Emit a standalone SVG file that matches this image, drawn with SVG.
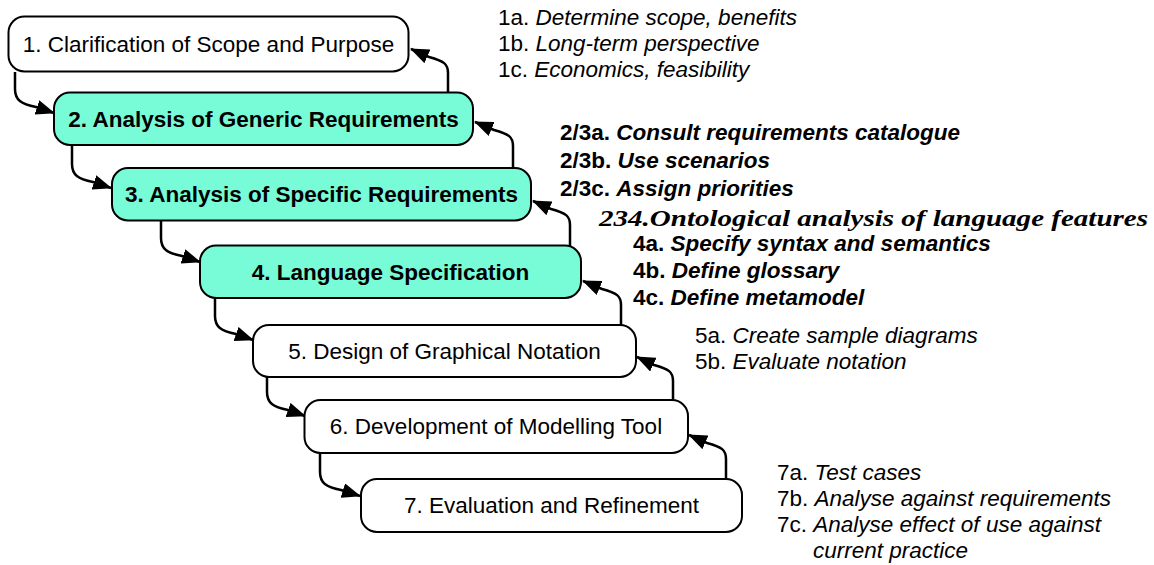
<svg xmlns="http://www.w3.org/2000/svg" width="1154" height="565" viewBox="0 0 1154 565">
<style>
.box{stroke:#000;stroke-width:2}
.w{fill:#fff}
.g{fill:#78fbd7}
.bt{font-family:"Liberation Sans",Arial,sans-serif;font-size:22.5px;fill:#000;text-anchor:middle}
.b{font-weight:bold}
.an{font-family:"Liberation Sans",Arial,sans-serif;font-size:22.5px;fill:#000}
.i{font-style:italic}
.ont{font-family:"Liberation Serif","DejaVu Serif",serif;font-size:24px;font-weight:bold;font-style:italic;fill:#000}
.c{fill:none;stroke:#000;stroke-width:2.5}
</style>
<defs>
<marker id="ah" markerUnits="userSpaceOnUse" markerWidth="19" markerHeight="15" viewBox="0 0 19 15" refX="18" refY="7.5" orient="auto">
<path d="M0,0 L19,7.5 L0,15 z" fill="#000"/>
</marker>
</defs>
<rect width="1154" height="565" fill="#fff"/>
<g id="connectors">
<path class="c" marker-end="url(#ah)" d="M15,72 L15,89 C15,100 21,104 36,107 L54,113"/>
<path class="c" marker-end="url(#ah)" d="M72,145 L72,164 C72,175 78,179 93,182 L111,188"/>
<path class="c" marker-end="url(#ah)" d="M161,221 L161,238 C161,249 167,253 182,256 L200,262"/>
<path class="c" marker-end="url(#ah)" d="M215,298 L215,316 C215,327 221,331 236,334 L253,340"/>
<path class="c" marker-end="url(#ah)" d="M267,377 L267,392 C267,403 273,407 288,410 L305,416"/>
<path class="c" marker-end="url(#ah)" d="M320,453 L320,472 C320,483 326,487 341,490 L360,496"/>
<path class="c" marker-end="url(#ah)" d="M448,93 L448,73 C448,64 444,61 429,57 L411,49"/>
<path class="c" marker-end="url(#ah)" d="M513,168 L513,146 C513,137 509,134 494,130 L475,122"/>
<path class="c" marker-end="url(#ah)" d="M570,246 L570,225 C570,216 566,213 551,209 L533,201"/>
<path class="c" marker-end="url(#ah)" d="M621,325 L621,305 C621,296 617,293 602,289 L583,281"/>
<path class="c" marker-end="url(#ah)" d="M673,400 L673,381 C673,372 669,369 654,365 L637,357"/>
<path class="c" marker-end="url(#ah)" d="M726,479 L726,459 C726,450 722,447 707,443 L689,435"/>
</g>
<g id="n1"><rect class="box w" x="8.5" y="16.5" width="400" height="55" rx="16"/><text class="bt" x="208.5" y="52">1. Clarification of Scope and Purpose</text></g>
<g id="n2"><rect class="box g" x="54" y="92.5" width="419" height="52.5" rx="16"/><text class="bt b" x="263.5" y="126.5">2. Analysis of Generic Requirements</text></g>
<g id="n3"><rect class="box g" x="112" y="168" width="419" height="52.5" rx="16"/><text class="bt b" x="321.5" y="202">3. Analysis of Specific Requirements</text></g>
<g id="n4"><rect class="box g" x="200" y="245.5" width="381" height="52.5" rx="16"/><text class="bt b" x="390.5" y="279.5">4. Language Specification</text></g>
<g id="n5"><rect class="box w" x="253" y="325" width="383" height="52" rx="16"/><text class="bt" x="444.5" y="358.5">5. Design of Graphical Notation</text></g>
<g id="n6"><rect class="box w" x="304.5" y="400" width="383.5" height="53" rx="16"/><text class="bt" x="496" y="434">6. Development of Modelling Tool</text></g>
<g id="n7"><rect class="box w" x="361" y="479" width="381" height="53" rx="16"/><text class="bt" x="551.5" y="513">7. Evaluation and Refinement</text></g>
<g id="notes1">
<text class="an" x="498" y="25">1a. <tspan class="i">Determine scope, benefits</tspan></text>
<text class="an" x="498" y="51">1b. <tspan class="i">Long-term perspective</tspan></text>
<text class="an" x="498" y="77">1c. <tspan class="i">Economics, feasibility</tspan></text>
</g>
<g id="notes23">
<text class="an b" x="560" y="140">2/3a. <tspan class="i">Consult requirements catalogue</tspan></text>
<text class="an b" x="560" y="168">2/3b. <tspan class="i">Use scenarios</tspan></text>
<text class="an b" x="560" y="196">2/3c. <tspan class="i">Assign priorities</tspan></text>
</g>
<g id="note234"><text class="ont" x="599" y="226" textLength="549" lengthAdjust="spacingAndGlyphs">234.Ontological analysis of language features</text></g>
<g id="notes4">
<text class="an b" x="633" y="251">4a. <tspan class="i">Specify syntax and semantics</tspan></text>
<text class="an b" x="633" y="278">4b. <tspan class="i">Define glossary</tspan></text>
<text class="an b" x="633" y="305">4c. <tspan class="i">Define metamodel</tspan></text>
</g>
<g id="notes5">
<text class="an" x="695" y="343">5a. <tspan class="i">Create sample diagrams</tspan></text>
<text class="an" x="695" y="369">5b. <tspan class="i">Evaluate notation</tspan></text>
</g>
<g id="notes7">
<text class="an" x="777" y="480">7a. <tspan class="i">Test cases</tspan></text>
<text class="an" x="777" y="506">7b. <tspan class="i">Analyse against requirements</tspan></text>
<text class="an" x="777" y="532">7c. <tspan class="i">Analyse effect of use against</tspan></text>
<text class="an i" x="813" y="558">current practice</text>
</g>
</svg>
